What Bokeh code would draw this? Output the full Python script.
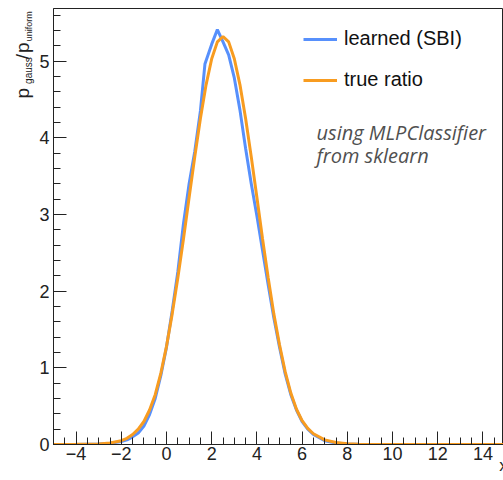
import math
import numpy as np
from bokeh.plotting import figure
from bokeh.layouts import row
from bokeh.models import FixedTicker, Label, Legend, LegendItem, Range1d
from bokeh.core.properties import value
from bokeh.embed import file_html
from bokeh.resources import INLINE

# ---- data ----
true_x = [-5, -4, -3, -2.5, -2, -1.75, -1.5, -1.25, -1, -0.75, -0.5, -0.25, 0, 0.25, 0.5, 0.75,
          1, 1.25, 1.5, 1.75, 2, 2.25, 2.5, 2.75, 3, 3.25, 3.5, 3.75, 4, 4.25, 4.5, 4.75,
          5, 5.25, 5.5, 5.75, 6, 6.25, 6.5, 7, 7.5, 8, 8.5, 9, 10, 12, 15]
true_y = [0.0, 0.002, 0.008, 0.02, 0.05, 0.08, 0.13, 0.2, 0.3, 0.45, 0.65, 0.93, 1.28, 1.70, 2.17, 2.68,
          3.22, 3.75, 4.25, 4.69, 5.03, 5.25, 5.32, 5.25, 5.03, 4.69, 4.25, 3.75, 3.22, 2.68, 2.17, 1.70,
          1.30, 0.95, 0.67, 0.46, 0.31, 0.21, 0.14, 0.06, 0.025, 0.01, 0.004, 0.001, 0, 0, 0]

learned_x = [-5, -4, -3, -2.5, -2, -1.75, -1.5, -1.25, -1, -0.75, -0.5, -0.25, 0, 0.25, 0.5, 0.75,
             1, 1.25, 1.5, 1.7, 2, 2.25, 2.5, 2.75, 3, 3.25, 3.5, 3.75, 4, 4.25, 4.5, 4.75,
             5, 5.25, 5.5, 5.75, 6, 6.25, 6.5, 7, 7.5, 8, 8.5, 9, 10, 12, 15]
learned_y = [0.0, 0.001, 0.005, 0.015, 0.04, 0.06, 0.10, 0.15, 0.24, 0.39, 0.60, 0.90, 1.27, 1.74, 2.25, 2.88,
             3.40, 3.82, 4.35, 4.96, 5.22, 5.41, 5.25, 5.08, 4.78, 4.36, 3.86, 3.40, 2.98, 2.53, 2.08, 1.65,
             1.27, 0.92, 0.65, 0.45, 0.30, 0.20, 0.13, 0.05, 0.02, 0.008, 0.003, 0.001, 0, 0, 0]

x_ticks = [-4, -2, 0, 2, 4, 6, 8, 10, 12, 14]
y_ticks = [0, 1, 2, 3, 4, 5]
series_names = ["learned (SBI)", "true ratio"]
note_lines = ["using MLPClassifier", "from sklearn"]
y_title_parts = ["p", "gauss", "/", "p", "uniform"]
x_title = "x"

BLUE = "#5790fc"
ORANGE = "#f89c20"
FONT = "Liberation Sans"
TXT = "#222222"

W, H = 503, 480
STRIP_W = 36      # left strip holding the y title
MAIN_W, MAIN_H = W - STRIP_W, H

p = figure(width=MAIN_W, height=MAIN_H, output_backend="svg", toolbar_location=None,
           x_range=Range1d(-5, 14.91), y_range=Range1d(0, 5.685),
           min_border_left=52 - STRIP_W, min_border_right=0, min_border_top=8,
           min_border_bottom=MAIN_H - 444)
p.background_fill_color = "white"
p.border_fill_color = "white"
p.grid.visible = False
p.outline_line_color = TXT
p.outline_line_width = 1

r_learn = p.line(learned_x, learned_y, line_color=BLUE, line_width=3)
r_true = p.line(true_x, true_y, line_color=ORANGE, line_width=3)

# axes
xa = p.xaxis[0]
xa.ticker = FixedTicker(ticks=x_ticks, minor_ticks=list(np.arange(-5, 15.01, 0.5)))
xa.major_label_overrides = {t: (("\u2212" + str(-t)) if t < 0 else str(t)) for t in x_ticks}
ya = p.yaxis[0]
ya.ticker = FixedTicker(ticks=y_ticks, minor_ticks=list(np.arange(0, 5.7, 0.2)))
for ax in (xa, ya):
    ax.major_tick_in = 13
    ax.major_tick_out = 0
    ax.minor_tick_in = 7
    ax.minor_tick_out = 0
    ax.axis_line_color = TXT
    ax.major_tick_line_color = TXT
    ax.minor_tick_line_color = TXT
    ax.major_label_text_font = FONT
    ax.major_label_text_font_size = "18px"
    ax.major_label_text_color = TXT
    ax.major_label_standoff = 4
xa.major_label_standoff = 2

# x axis title, right-aligned at the end of the axis, tucked under the tick labels
xa.axis_label = x_title
xa.axis_label_text_font = FONT
xa.axis_label_text_font_size = "17px"
xa.axis_label_text_font_style = "normal"
xa.axis_label_text_color = TXT
xa.axis_label_standoff = -7
if "axis_label_align" in xa.properties():
    xa.axis_label_align = "end"

# legend
legend = Legend(items=[LegendItem(label=series_names[0], renderers=[r_learn]),
                       LegendItem(label=series_names[1], renderers=[r_true])],
                location=(250, 353), orientation="vertical",
                glyph_width=34, glyph_height=20, label_height=20, label_standoff=7,
                spacing=18, padding=0, margin=0,
                label_text_font=FONT, label_text_font_size="20px", label_text_color="#111111",
                border_line_color=None, background_fill_alpha=0)
p.add_layout(legend)

# note text
for i, line in enumerate(note_lines):
    p.add_layout(Label(x=263, y=312 - 23 * i, x_units="screen", y_units="screen", text=line,
                       text_font="Open Sans", text_font_style="italic", text_font_size="20px",
                       text_color="#505050", text_baseline="middle", text_align="left"))

# y title strip: p_gauss / p_uniform, rotated
ys = figure(width=STRIP_W, height=MAIN_H, output_backend="svg", toolbar_location=None,
            title=None, x_range=Range1d(0, STRIP_W), y_range=Range1d(0, MAIN_H),
            x_axis_location=None, y_axis_location=None,
            min_border=0, min_border_left=0, min_border_right=0,
            min_border_top=0, min_border_bottom=0)
ys.grid.visible = False
ys.outline_line_color = None
ys.background_fill_color = "white"
ys.border_fill_color = "white"

big = [(0, 22, 99), (2, 22, 56), (3, 22, 49)]
small = [(1, 28, 83, "10px"), (4, 28, 36, "9px")]
for idx, cx, cy in big:
    ys.text(x=[cx], y=[MAIN_H - cy], text=[y_title_parts[idx]], angle=math.pi / 2,
            text_font=value(FONT), text_font_size=value("19px"), text_color=TXT,
            text_baseline="alphabetic", text_align="left")
for idx, cx, cy, fs in small:
    ys.text(x=[cx], y=[MAIN_H - cy], text=[y_title_parts[idx]], angle=math.pi / 2,
            text_font=value(FONT), text_font_size=value(fs), text_color=TXT,
            text_baseline="alphabetic", text_align="left")

layout = row(ys, p, spacing=0)
open("out.html", "w").write(file_html(layout, INLINE))
